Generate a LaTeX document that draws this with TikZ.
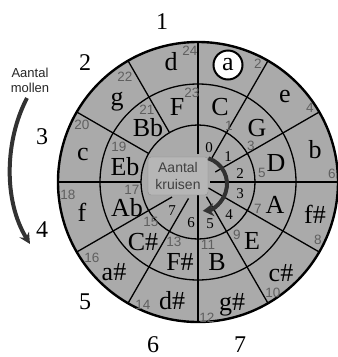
\documentclass[tikz,border=0pt]{standalone}
\usepackage{fontspec}
\setmainfont{Liberation Serif}
\newfontfamily\arialf{Liberation Sans}
\usetikzlibrary{arrows.meta,calc}
\definecolor{ringgray}{RGB}{170,170,170}
\definecolor{numgray}{RGB}{95,95,95}
\definecolor{arrowdark}{RGB}{50,50,50}
\definecolor{boxgray}{RGB}{182,182,182}
\definecolor{boxedge}{RGB}{140,140,140}
\begin{document}
\begin{tikzpicture}[x=1pt,y=1pt,
  key/.style={font=\fontsize{26}{26}\selectfont, inner sep=0pt},
  sharpnum/.style={font=\fontsize{15}{15}\selectfont, inner sep=0pt},
  flatnum/.style={font=\fontsize{24}{24}\selectfont, inner sep=0pt},
  gnum/.style={font=\arialf\fontsize{13.5}{13.5}\selectfont, text=numgray, inner sep=0pt},
  ringline/.style={line width=1.3pt},
  bigarrow/.style={line width=4pt, arrowdark},
]
\useasboundingbox (0,0) rectangle (338,-357);
\coordinate (O) at (198,-182);
\fill[ringgray] (O) circle[radius=140];
% radial lines
\foreach \a/\r in {90/28,60/28,30/20,0/12,-30/12,-60/17,-90/10,-120/19,-150/30}
  \draw[ringline] ($(O)+(\a:\r)$) -- ($(O)+(\a:140)$);
\foreach \a in {180,150,120}
  \draw[ringline] ($(O)+(\a:57)$) -- ($(O)+(\a:140)$);
\draw[ringline] (O) circle[radius=57];
\draw[ringline] (O) circle[radius=98];
\draw[line width=2.4pt] (O) circle[radius=140];

% centre box
\node[draw=boxedge, fill=boxgray, rounded corners=3pt, minimum width=60, minimum height=38,
  inner sep=0pt, align=center, text=black!75,
  font=\arialf\fontsize{14}{17}\selectfont] (kr) at (178,-176) {Aantal\\kruisen};

% centre arrow
\coordinate (Oa) at (200,-184);
\coordinate (arS) at ($(Oa)+(72:27)$);
\draw[bigarrow, -{Stealth[length=11pt,width=13pt]}] (arS) arc[start angle=72, end angle=-84, radius=27];

% minor keys
\node[key] (md) at (171,-62) {d};
\node[key, circle, draw, line width=2pt, fill=white, minimum size=29pt] (ma) at (228,-65) {a};
\node[key] (me) at (285,-96) {e};
\node[key] (mb) at (315,-150) {b};
\node[key] (mfs) at (315,-214) {f\#};
\node[key] (mcs) at (281,-273) {c\#};
\node[key] (mgs) at (232,-305) {g\#};
\node[key] (mds) at (172,-301) {d\#};
\node[key] (mas) at (114,-272) {a\#};
\node[key] (mf) at (82,-212) {f};
\node[key] (mc) at (83,-154) {c};
\node[key] (mg) at (117,-102) {g};

% major keys
\node[key] (kF) at (177,-107) {F};
\node[key] (kC) at (220,-107) {C};
\node[key] (kG) at (257,-128) {G};
\node[key] (kD) at (276,-163) {D};
\node[key] (kA) at (275,-205) {A};
\node[key] (kE) at (252,-241) {E};
\node[key] (kB) at (217,-262) {B};
\node[key] (kFs) at (180,-262) {F\#};
\node[key] (kCs) at (143,-242) {C\#};
\node[key] (kAb) at (127,-208) {Ab};
\node[key] (kEb) at (125,-167) {Eb};
\node[key] (kBb) at (148,-128) {Bb};

% sharps count
\node[sharpnum] (s0) at (209,-148) {0};
\node[sharpnum] (s1) at (228,-157) {1};
\node[sharpnum] (s2) at (240,-174) {2};
\node[sharpnum] (s3) at (240,-194) {3};
\node[sharpnum] (s4) at (229,-215) {4};
\node[sharpnum] (s5) at (210,-224) {5};
\node[sharpnum] (s6) at (191,-223) {6};
\node[sharpnum] (s7) at (172,-211) {7};

% grey numbers
\node[gnum] (g1) at (229,-126) {1};
\node[gnum] (g2) at (258,-64) {2};
\node[gnum] (g3) at (251,-146) {3};
\node[gnum] (g4) at (310,-108) {4};
\node[gnum] (g5) at (262,-173) {5};
\node[gnum] (g6) at (332,-174) {6};
\node[gnum] (g7) at (258,-209) {7};
\node[gnum] (g8) at (318,-240) {8};
\node[gnum] (g9) at (237,-235) {9};
\node[gnum] (g10) at (273,-293) {10};
\node[gnum] (g11) at (208,-245) {11};
\node[gnum] (g12) at (207,-318) {12};
\node[gnum] (g13) at (174,-242) {13};
\node[gnum] (g14) at (143,-305) {14};
\node[gnum] (g15) at (151,-222) {15};
\node[gnum] (g16) at (92,-258) {16};
\node[gnum] (g17) at (132,-190) {17};
\node[gnum] (g18) at (68,-195) {18};
\node[gnum] (g19) at (119,-147) {19};
\node[gnum] (g20) at (82,-125) {20};
\node[gnum] (g21) at (147,-110) {21};
\node[gnum] (g22) at (125,-77) {22};
\node[gnum] (g23) at (192,-93) {23};
\node[gnum] (g24) at (190,-51) {24};

% flats count
\node[flatnum] (f1) at (162,-22) {1};
\node[flatnum] (f2) at (85,-63) {2};
\node[flatnum] (f3) at (42,-137) {3};
\node[flatnum] (f4) at (42,-230) {4};
\node[flatnum] (f5) at (85,-302) {5};
\node[flatnum] (f6) at (153,-345) {6};
\node[flatnum] (f7) at (240,-345) {7};

% mollen label and arrow
\node[font=\arialf\fontsize{13}{15}\selectfont, align=center, text=black!85, inner sep=0pt] (mol) at (30,-80) {Aantal\\mollen};
\coordinate (mS) at (27,-98);
\coordinate (mE) at (30,-244);
\draw[bigarrow, -{Stealth[length=11pt,width=11pt]}] (mS) .. controls (5,-140) and (3,-200) .. (mE);
\end{tikzpicture}
\end{document}
